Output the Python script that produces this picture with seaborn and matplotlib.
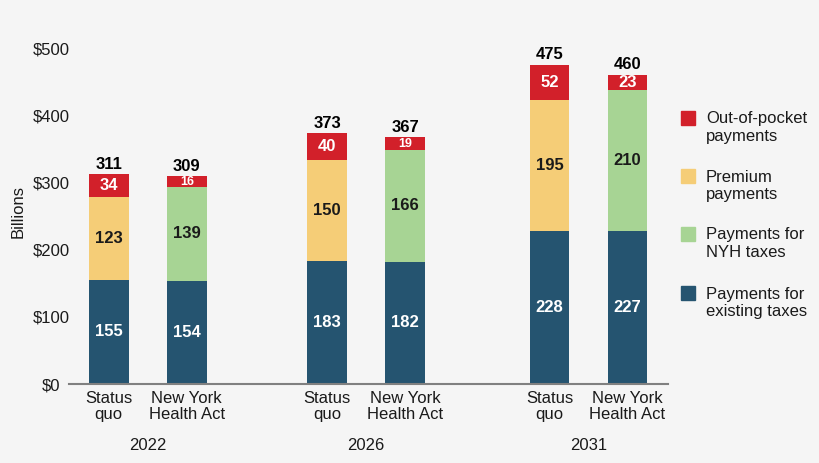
import numpy as np
import pandas as pd
import matplotlib
matplotlib.use("Agg")
import matplotlib.pyplot as plt
import seaborn as sns
from matplotlib.patches import Rectangle

# data (billions of dollars)
years = ["2022", "2026", "2031"]
scenarios = ["Status\nquo", "New York\nHealth Act"]
existing_taxes = [155, 154, 183, 182, 228, 227]
middle_payments = [123, 139, 150, 166, 195, 210]   # premium (status quo) / NYH taxes (NYHA)
out_of_pocket = [34, 16, 40, 19, 52, 23]
totals = [311, 309, 373, 367, 475, 460]

legend_labels = ["Out-of-pocket\npayments", "Premium\npayments",
                 "Payments for\nNYH taxes", "Payments for\nexisting taxes"]

NAVY = "#255470"
YELLOW = "#f5cd77"
GREEN = "#a7d494"
RED = "#d2202a"
BG = "#f5f5f5"
TXT = "#1a1a1a"

sns.set_theme(style="white")
plt.rcParams["font.family"] = ["Liberation Sans", "DejaVu Sans"]

# bar positions: two bars per year group
group_start = [0.0, 2.8, 5.65]
pos = []
for g in group_start:
    pos += [g, g + 1.0]

df = pd.DataFrame({
    "pos": pos,
    "scenario": ["Status quo", "NYHA"] * 3,
    "existing": existing_taxes,
    "middle": middle_payments,
    "oop": out_of_pocket,
})
df["mid_top"] = df["existing"] + df["middle"]
df["top"] = df["mid_top"] + df["oop"]

fig = plt.figure(figsize=(8.2, 4.63), dpi=100, facecolor=BG)
ax = fig.add_axes([69 / 820, 79 / 463, 599 / 820, 336 / 463])
ax.set_facecolor(BG)

bw = 0.51
sns.barplot(data=df, x="pos", y="top", native_scale=True, color=RED,
            saturation=1, width=bw, errorbar=None, linewidth=0, ax=ax)
sns.barplot(data=df, x="pos", y="mid_top", hue="scenario", native_scale=True,
            palette={"Status quo": YELLOW, "NYHA": GREEN}, dodge=False,
            saturation=1, width=bw, errorbar=None, linewidth=0, legend=False, ax=ax)
sns.barplot(data=df, x="pos", y="existing", native_scale=True, color=NAVY,
            saturation=1, width=bw, errorbar=None, linewidth=0, ax=ax)

# segment labels
for i, r in df.iterrows():
    ax.text(r["pos"], r["existing"] / 2, f"{r['existing']}", ha="center", va="center",
            color="white", fontsize=12, fontweight="bold")
    ax.text(r["pos"], r["existing"] + r["middle"] / 2, f"{r['middle']}", ha="center",
            va="center", color=TXT, fontsize=12, fontweight="bold")
    small = r["oop"] < 20
    ax.text(r["pos"], r["mid_top"] + r["oop"] / 2, f"{r['oop']}", ha="center",
            va="center", color="white", fontsize=9 if small else 12, fontweight="bold")
    ax.text(r["pos"], r["top"] + 4, f"{totals[i]}", ha="center", va="bottom",
            color="black", fontsize=12, fontweight="bold")

ax.set_xlim(-0.51, 7.17)
ax.set_ylim(0, 500)
ax.set_yticks(range(0, 501, 100))
ax.set_yticklabels([f"${v}" for v in range(0, 501, 100)], ha="center")
ax.set_xticks(pos)
ax.set_xticklabels(scenarios * 3, linespacing=1.1)
ax.tick_params(axis="both", length=0, labelsize=12, colors=TXT)
ax.tick_params(axis="y", pad=13)
ax.tick_params(axis="x", pad=5)
ax.set_xlabel("")
ax.set_ylabel("")
fig.text(18 / 820, 1 - 212 / 463, "Billions", rotation=90, ha="center", va="center",
         fontsize=12, color=TXT)

for g, yr in zip(group_start, years):
    ax.text(g + 0.5, -92, yr, ha="center", va="center", fontsize=12, color=TXT, clip_on=False)

for s in ["top", "right", "left"]:
    ax.spines[s].set_visible(False)
ax.spines["bottom"].set_color("#808080")
ax.spines["bottom"].set_linewidth(1.5)

# legend drawn at the right
leg_colors = [RED, YELLOW, GREEN, NAVY]
leg_tops = [111, 169, 227, 286]
for c, t, lab in zip(leg_colors, leg_tops, legend_labels):
    fig.patches.append(Rectangle((681 / 820, 1 - (t + 14) / 463), 14 / 820, 14 / 463,
                                 transform=fig.transFigure, color=c, zorder=3))
    fig.text(706 / 820, 1 - (t + 0.5) / 463, lab, ha="left", va="top",
             fontsize=12, color=TXT, linespacing=1.2)

fig.savefig("out.png", dpi=100, facecolor=BG)
